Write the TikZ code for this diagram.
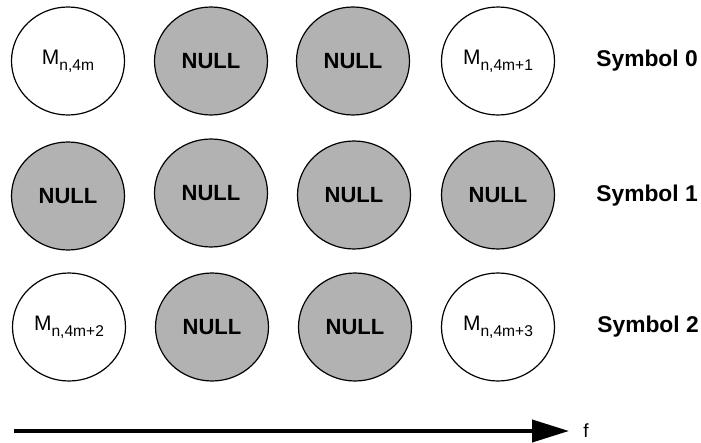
\documentclass[tikz,border=0pt]{standalone}
\usepackage{fontspec}
\setmainfont{Liberation Sans}
\usetikzlibrary{arrows.meta, shapes.geometric}

% small lowered index for the data cells
\newcommand{\sublbl}[1]{\raisebox{-3pt}{\fontsize{7.8}{9}\selectfont #1}}

\begin{document}
\begin{tikzpicture}[x=0.5pt, y=-0.5pt,
    datacell/.style={draw, ellipse, line width=0.6pt, fill=white,
        minimum width=56.5pt, minimum height=54pt, inner sep=0pt,
        font=\fontsize{10.5}{12}\selectfont},
    nullcell/.style={datacell, fill=black!30,
        font=\fontsize{11}{13}\selectfont\bfseries},
    symlabel/.style={anchor=west, inner sep=0pt,
        font=\fontsize{11.4}{13}\selectfont\bfseries},
    freqarrow/.style={-{Triangle[length=18.5pt,width=11pt]}, line width=2pt}]
    \useasboundingbox (0,0) rectangle (701,443);

    % ==========================================
    % Symbol 0: data on the outer subcarriers
    % ==========================================
    \node[datacell] (s0c0) at (68,61) {M\sublbl{n,4m}};
    \node[nullcell] (s0c1) at (211,61) {NULL};
    \node[nullcell] (s0c2) at (353,61) {NULL};
    \node[datacell] (s0c3) at (498,61) {M\sublbl{n,4m+1}};
    \node[symlabel] (sym0) at (596,61) {Symbol 0};

    % ==========================================
    % Symbol 1: all NULL
    % ==========================================
    \node[nullcell] (s1c0) at (68,196) {NULL};
    \node[nullcell] (s1c1) at (211,193) {NULL};
    \node[nullcell] (s1c2) at (354,195) {NULL};
    \node[nullcell] (s1c3) at (498,195) {NULL};
    \node[symlabel] (sym1) at (596,196) {Symbol 1};

    % ==========================================
    % Symbol 2: data on the outer subcarriers
    % ==========================================
    \node[datacell] (s2c0) at (69,327) {M\sublbl{n,4m+2}};
    \node[nullcell] (s2c1) at (212,327) {NULL};
    \node[nullcell] (s2c2) at (355,327) {NULL};
    \node[datacell] (s2c3) at (498,327) {M\sublbl{n,4m+3}};
    \node[symlabel] (sym2) at (597,327) {Symbol 2};

    % Frequency axis
    \coordinate (fstart) at (14,431);
    \coordinate (fend) at (569,431);
    \draw[freqarrow] (fstart) -- (fend);
    \node[anchor=west, inner sep=0pt, font=\fontsize{9.5}{11}\selectfont] (faxis) at (583,431) {f};
\end{tikzpicture}
\end{document}
